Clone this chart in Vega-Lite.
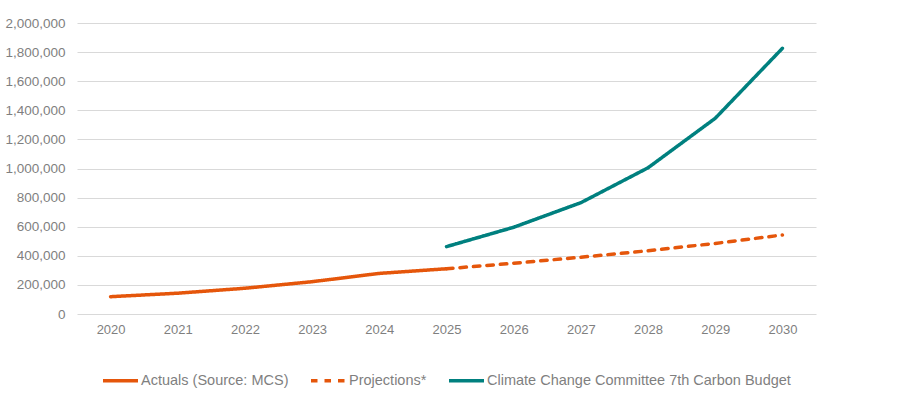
{
  "$schema": "https://vega.github.io/schema/vega-lite/v6.json",
  "autosize": "none",
  "width": 739,
  "height": 291,
  "padding": {"left": 77, "top": 23, "right": 81, "bottom": 85},
  "background": "white",
  "config": {
    "view": {"stroke": null},
    "font": "Liberation Sans",
    "axis": {"labelFont": "Liberation Sans", "labelColor": "#7F7F7F", "labelFontSize": 13},
    "legend": {"labelFont": "Liberation Sans", "labelColor": "#7F7F7F", "labelFontSize": 14.5}
  },
  "data": {
    "values": [
      {"year": "2020", "value": 119000, "series": "Actuals (Source: MCS)"},
      {"year": "2021", "value": 143000, "series": "Actuals (Source: MCS)"},
      {"year": "2022", "value": 177000, "series": "Actuals (Source: MCS)"},
      {"year": "2023", "value": 222000, "series": "Actuals (Source: MCS)"},
      {"year": "2024", "value": 279000, "series": "Actuals (Source: MCS)"},
      {"year": "2025", "value": 311000, "series": "Actuals (Source: MCS)"},
      {"year": "2025", "value": 311000, "series": "Projections*"},
      {"year": "2026", "value": 349000, "series": "Projections*"},
      {"year": "2027", "value": 390000, "series": "Projections*"},
      {"year": "2028", "value": 435000, "series": "Projections*"},
      {"year": "2029", "value": 485000, "series": "Projections*"},
      {"year": "2030", "value": 543000, "series": "Projections*"},
      {"year": "2025", "value": 463000, "series": "Climate Change Committee 7th Carbon Budget"},
      {"year": "2026", "value": 596000, "series": "Climate Change Committee 7th Carbon Budget"},
      {"year": "2027", "value": 765000, "series": "Climate Change Committee 7th Carbon Budget"},
      {"year": "2028", "value": 1005000, "series": "Climate Change Committee 7th Carbon Budget"},
      {"year": "2029", "value": 1345000, "series": "Climate Change Committee 7th Carbon Budget"},
      {"year": "2030", "value": 1826000, "series": "Climate Change Committee 7th Carbon Budget"}
    ]
  },
  "mark": {"type": "line", "strokeWidth": 3.5, "strokeCap": "round"},
  "encoding": {
    "x": {
      "field": "year",
      "type": "ordinal",
      "scale": {"type": "point", "padding": 0.5},
      "axis": {"title": null, "labelAngle": 0, "ticks": false, "domain": false, "grid": false, "labelPadding": 9}
    },
    "y": {
      "field": "value",
      "type": "quantitative",
      "scale": {"domain": [0, 2000000], "nice": false},
      "axis": {
        "title": null,
        "values": [0, 200000, 400000, 600000, 800000, 1000000, 1200000, 1400000, 1600000, 1800000, 2000000],
        "format": ",d",
        "ticks": false,
        "domain": false,
        "grid": true,
        "gridColor": "#D9D9D9",
        "gridWidth": 1,
        "labelPadding": 12,
        "labelFontSize": 13.5
      }
    },
    "color": {
      "field": "series",
      "type": "nominal",
      "sort": ["Actuals (Source: MCS)", "Projections*", "Climate Change Committee 7th Carbon Budget"],
      "scale": {
        "domain": ["Actuals (Source: MCS)", "Projections*", "Climate Change Committee 7th Carbon Budget"],
        "range": ["#E5560B", "#E5560B", "#00807F"]
      },
      "legend": {
        "title": null,
        "orient": "none",
        "direction": "horizontal",
        "legendX": 24,
        "legendY": 338,
        "symbolType": "stroke",
        "symbolSize": 1225,
        "symbolStrokeWidth": 3.5,
        "labelOffset": 1,
        "labelLimit": 500,
        "columnPadding": 15
      }
    },
    "strokeDash": {
      "field": "series",
      "type": "nominal",
      "sort": ["Actuals (Source: MCS)", "Projections*", "Climate Change Committee 7th Carbon Budget"],
      "scale": {
        "domain": ["Actuals (Source: MCS)", "Projections*", "Climate Change Committee 7th Carbon Budget"],
        "range": [[1, 0], [6.5, 7], [1, 0]]
      },
      "legend": null
    }
  }
}
